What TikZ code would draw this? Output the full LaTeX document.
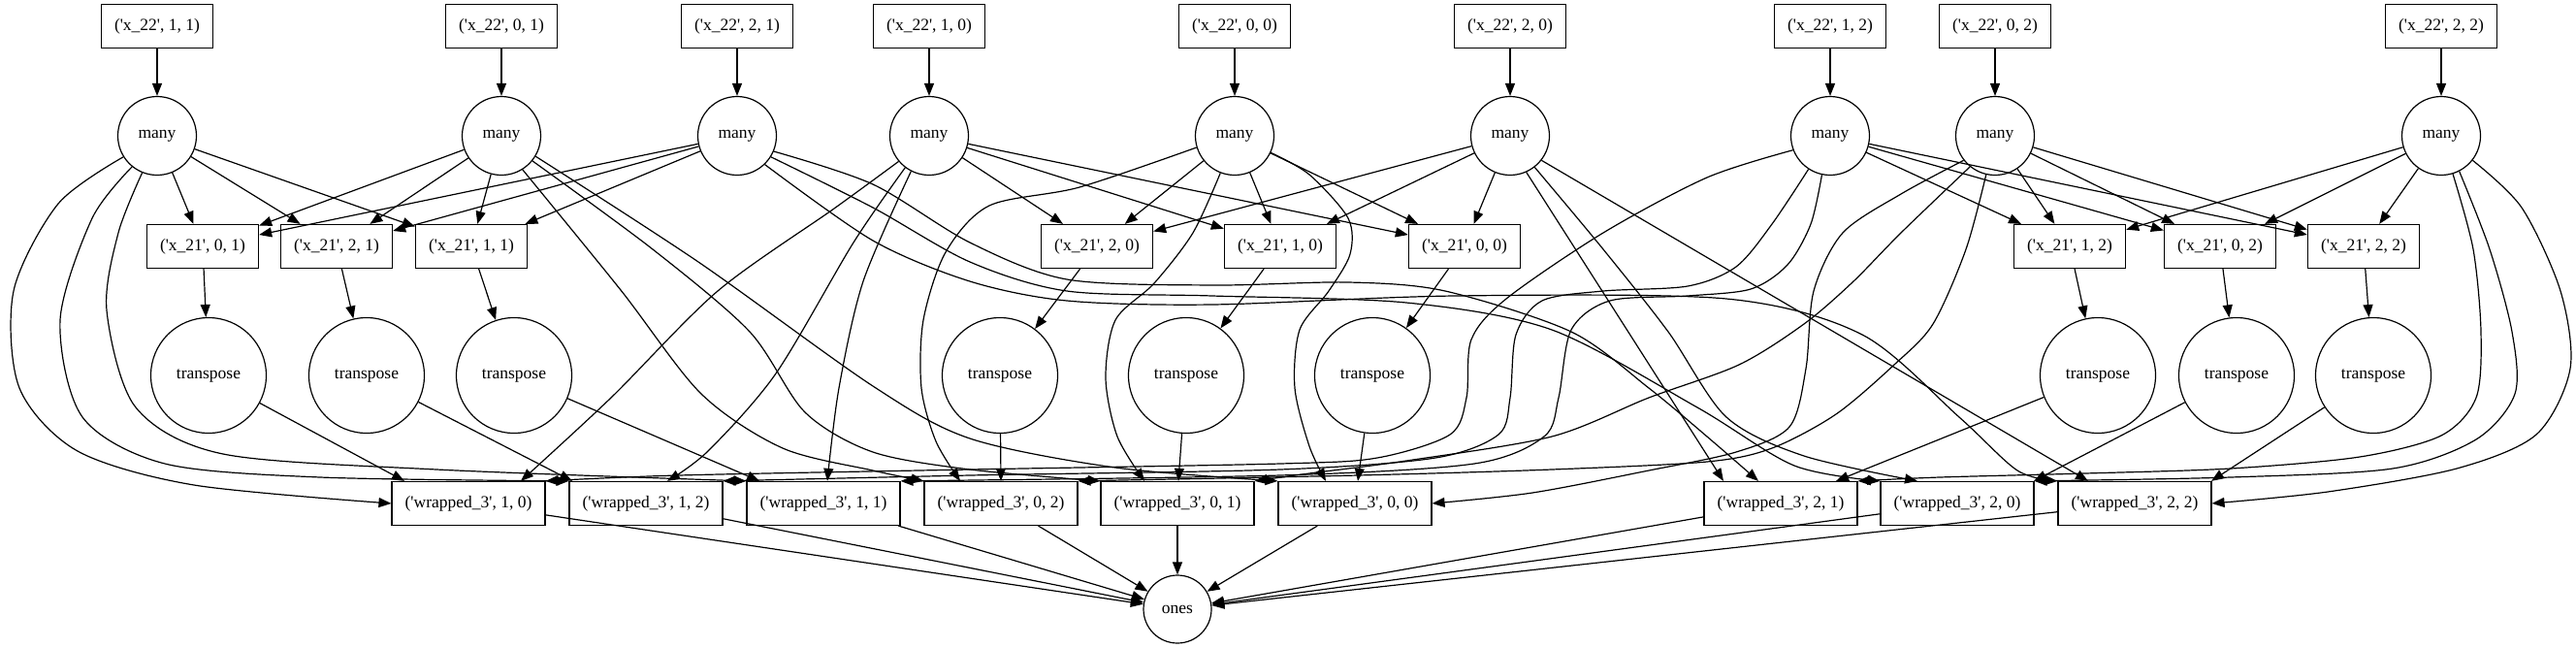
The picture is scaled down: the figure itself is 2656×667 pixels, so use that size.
\documentclass[tikz,border=0pt]{standalone}
\usepackage{fontspec}
\setmainfont{Liberation Serif}
\usepackage{tikz}
\usetikzlibrary{arrows.meta}
\newcommand{\tup}[3]{(\textquotesingle#1\textquotesingle, #2, #3)}

\begin{document}
\begin{tikzpicture}[x=1pt,y=-1pt,
	every node/.style={font=\fontsize{17.5}{21}\selectfont},
	tbox/.style={draw, rectangle, line width=1.2pt, inner xsep=13.6pt, inner ysep=0pt, minimum height=45pt},
	fn/.style={draw, circle, line width=1.2pt, inner sep=0pt},
	manynode/.style={fn, minimum size=81pt},
	trnode/.style={fn, minimum size=119pt},
	onesnode/.style={fn, minimum size=70pt},
	arr/.style={line width=1.2pt, -{Triangle[length=13pt,width=10pt]}}]
	\useasboundingbox (0,0) rectangle (2656,667);

	\foreach \i/\j/\x in {1/1/162, 0/1/517, 2/1/760, 1/0/958, 0/0/1273, 2/0/1557, 1/2/1887, 0/2/2057, 2/2/2517} {
		\node[tbox] (a\i\j) at (\x,27) {\tup{x\_22}{\i}{\j}};
		\node[manynode] (m\i\j) at (\x,140) {many};
		\draw[arr] (a\i\j) -- (m\i\j);
	}
	\foreach \i/\j/\x/\tx in {0/1/209/215, 2/1/347/378, 1/1/486/530, 2/0/1131/1031, 1/0/1320/1223, 0/0/1510/1415, 1/2/2134/2163, 0/2/2289/2306, 2/2/2437/2447} {
		\node[tbox] (b\i\j) at (\x,254) {\tup{x\_21}{\i}{\j}};
		\node[trnode] (t\i\j) at (\tx,387) {transpose};
		\draw[arr] (b\i\j) -- (t\i\j);
	}
	\foreach \i/\j/\x in {1/0/483, 1/2/666, 1/1/849, 0/2/1032, 0/1/1214, 0/0/1397, 2/1/1836, 2/0/2018, 2/2/2201}
		\node[tbox] (w\i\j) at (\x,519) {\tup{wrapped\_3}{\i}{\j}};
	\node[onesnode] (ones) at (1214,628) {ones};

	\foreach \j in {0,1,2}
		\foreach \i in {0,1,2}
			\foreach \k in {0,1,2}
				\draw[arr] (m\i\j) -- (b\k\j);

	\foreach \a/\b/\s in {01/10/-66, 21/12/-76, 11/11/-66, 20/02/0, 10/01/1, 00/00/3, 12/21/57, 02/20/79, 22/22/79}
		\draw[arr] (t\a) -- ([xshift=\s]w\b.north);

	\foreach \n in {10,12,11,02,01,00,21,20,22}
		\draw[arr] (w\n) -- (ones);

	\draw[arr] plot[smooth] coordinates {(m11.212) (60,210) (14,300) (20,400) (80,465) (200,500) (w10.west)};
	\draw[arr] plot[smooth] coordinates {(m11.231) (95,225) (62,330) (85,430) (170,478) (330,492) (w12.north west)};
	\draw[arr] plot[smooth] coordinates {(m11.248) (122,240) (110,320) (140,420) (230,468) (450,484) (w11.north west)};

	\draw[arr] plot[smooth] coordinates {(m10.220) (860,215) (740,300) (630,410) ([xshift=54]w10.north)};
	\draw[arr] plot[smooth] coordinates {(m10.233) (880,250) (800,385) (730,465) ([xshift=22]w12.north)};
	\draw[arr] plot[smooth] coordinates {(m10.243) (890,290) (865,400) ([xshift=4]w11.north)};

	\draw[arr] plot[smooth] coordinates {(m01.302) (640,299) (723,406) (807,462) (900,485) (w02.north west)};
	\draw[arr] plot[smooth] coordinates {(m01.321) (673,257) (773,342) (830,425) (900,466) (1000,484) (w01.north west)};
	\draw[arr] plot[smooth] coordinates {(m01.329) (720,270) (900,398) (1000,452) (1150,482) (w00.north west)};

	\draw[arr] plot[smooth] coordinates {(m21.337) (900,190) (1000,250) (1100,288) (1250,294) (1390,291) (1490,300) (1620,342) (1700,400) (1760,450) ([xshift=-23]w21.north)};
	\draw[arr] plot[smooth] coordinates {(m21.328) (900,214) (1000,270) (1100,300) (1250,305) (1450,312) (1600,340) (1750,420) (1850,480) (w20.north west)};
	\draw[arr] plot[smooth] coordinates {(m21.314) (900,248) (1000,290) (1100,310) (1250,314) (1500,305) (1780,308) (1920,345) (2020,430) (2080,485) (w22.north west)};

	\draw[arr] plot[smooth] coordinates {(m00.197) (1113,193) (1020,212) (975,260) (952,330) (950,400) (965,455) ([xshift=-42]w02.north)};
	\draw[arr] plot[smooth] coordinates {(m00.249) (1230,240) (1190,292) (1150,330) (1140,390) (1152,450) ([xshift=-34]w01.north)};
	\draw[arr] plot[smooth] coordinates {(m00.335) (1350,180) (1390,225) (1392,262) (1370,300) (1340,340) (1335,400) (1350,460) ([xshift=-30]w00.north)};

	\draw[arr] (m20.294) -- ([xshift=-59]w21.north);
	\draw[arr] plot[smooth] coordinates {(m20.308) (1653,257) (1720,342) (1780,430) (1860,470) ([xshift=-41]w20.north)};
	\draw[arr] (m20.322) -- ([xshift=-48]w22.north);

	\draw[arr] plot[smooth] coordinates {(m12.201) (1760,183) (1653,240) (1553,308) (1517,350) (1512,410) (1495,448) (1420,472) (1320,478) (1000,484) (700,490) (w10.north east)};
	\draw[arr] plot[smooth] coordinates {(m12.237) (1827,231) (1790,275) (1740,295) (1653,300) (1590,310) (1563,345) (1557,410) (1545,448) (1480,472) (1320,484) (1000,490) (w12.north east)};
	\draw[arr] plot[smooth] coordinates {(m12.258) (1867,231) (1843,273) (1805,298) (1740,305) (1660,310) (1620,340) (1607,410) (1592,450) (1520,478) (1320,490) (w11.north east)};

	\draw[arr] plot[smooth] coordinates {(m02.218) (1960,200) (1900,240) (1870,300) (1862,380) (1845,440) (1790,466) (1700,485) (1580,508) (w00.east)};
	\draw[arr] plot[smooth] coordinates {(m02.231) (1960,240) (1910,291) (1860,334) (1793,376) (1700,410) (1600,450) (1450,475) (1350,488) (w01.north east)};
	\draw[arr] plot[smooth] coordinates {(m02.257) (2027,257) (1993,334) (1953,376) (1893,427) (1827,462) (1760,476) (1600,484) (1400,490) (w02.north east)};

	\draw[arr] plot[smooth] coordinates {(m22.287) (2550,257) (2558,342) (2553,410) (2517,449) (2433,471) (2300,483) (2150,488) (2000,492) (w21.north east)};
	\draw[arr] plot[smooth] coordinates {(m22.297) (2567,257) (2590,342) (2593,406) (2553,453) (2467,483) (2300,492) (w20.north east)};
	\draw[arr] plot[smooth] coordinates {(m22.322) (2600,214) (2640,300) (2650,380) (2615,448) (2533,483) (2400,507) (w22.east)};
\end{tikzpicture}
\end{document}
